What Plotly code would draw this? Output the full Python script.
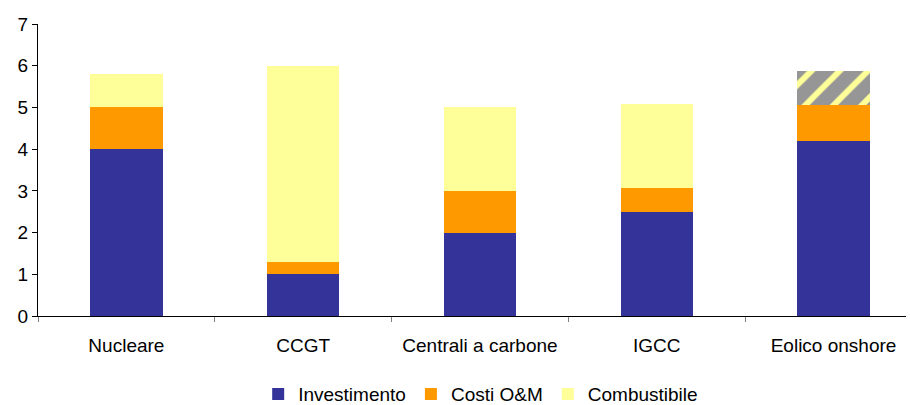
import plotly.graph_objects as go

categories = ["Nucleare", "CCGT", "Centrali a carbone", "IGCC", "Eolico onshore"]
investimento = [4.0, 1.0, 2.0, 2.5, 4.2]
costi_om = [1.0, 0.3, 1.0, 0.57, 0.85]
combustibile = [0.8, 4.7, 2.0, 2.01, None]
altri_costi = [None, None, None, None, 0.83]   # hatched top of the wind column
y_ticks = [0, 1, 2, 3, 4, 5, 6, 7]

BLUE = "#333399"
ORANGE = "#FF9900"
YELLOW = "#FFFF99"
GREY = "#969696"

font = dict(family="Liberation Sans, Arial, sans-serif", size=19, color="#000000")

fig = go.Figure()
fig.add_trace(go.Bar(x=categories, y=investimento, name="Investimento",
                     marker=dict(color=BLUE, line=dict(width=0))))
fig.add_trace(go.Bar(x=categories, y=costi_om, name="Costi O&M",
                     marker=dict(color=ORANGE, line=dict(width=0))))
fig.add_trace(go.Bar(x=categories, y=combustibile, name="Combustibile",
                     marker=dict(color=YELLOW, line=dict(width=0))))
fig.add_trace(go.Bar(x=categories, y=altri_costi, name="Altri costi", showlegend=False,
                     marker=dict(color=GREY, line=dict(width=0),
                                 pattern=dict(shape="/", fgcolor=YELLOW, bgcolor=GREY,
                                              size=20, solidity=0.3,
                                              fillmode="replace"))))

fig.update_layout(
    barmode="stack",
    bargap=0.59,
    width=910, height=405,
    margin=dict(l=38, r=4, t=24, b=89, autoexpand=False),
    paper_bgcolor="white", plot_bgcolor="white",
    font=font,
    showlegend=True,
    legend=dict(orientation="h", x=0.51, xanchor="center",
                yref="container", y=0.027, yanchor="middle",
                font=dict(size=19), itemwidth=30, traceorder="normal"),
    xaxis=dict(range=[-0.5, 4.41], tickson="boundaries", ticks="outside", ticklen=5,
               tickcolor="#808080", showline=True, linecolor="#000000", linewidth=1,
               showgrid=False, tickfont=dict(size=19), ticklabelstandoff=12),
    yaxis=dict(range=[0, 7], tickvals=y_ticks, ticks="outside", ticklen=5,
               tickcolor="#000000", showline=True, linecolor="#000000", linewidth=1,
               showgrid=False, zeroline=False, tickfont=dict(size=19)),
)

fig.write_html("out.html")
